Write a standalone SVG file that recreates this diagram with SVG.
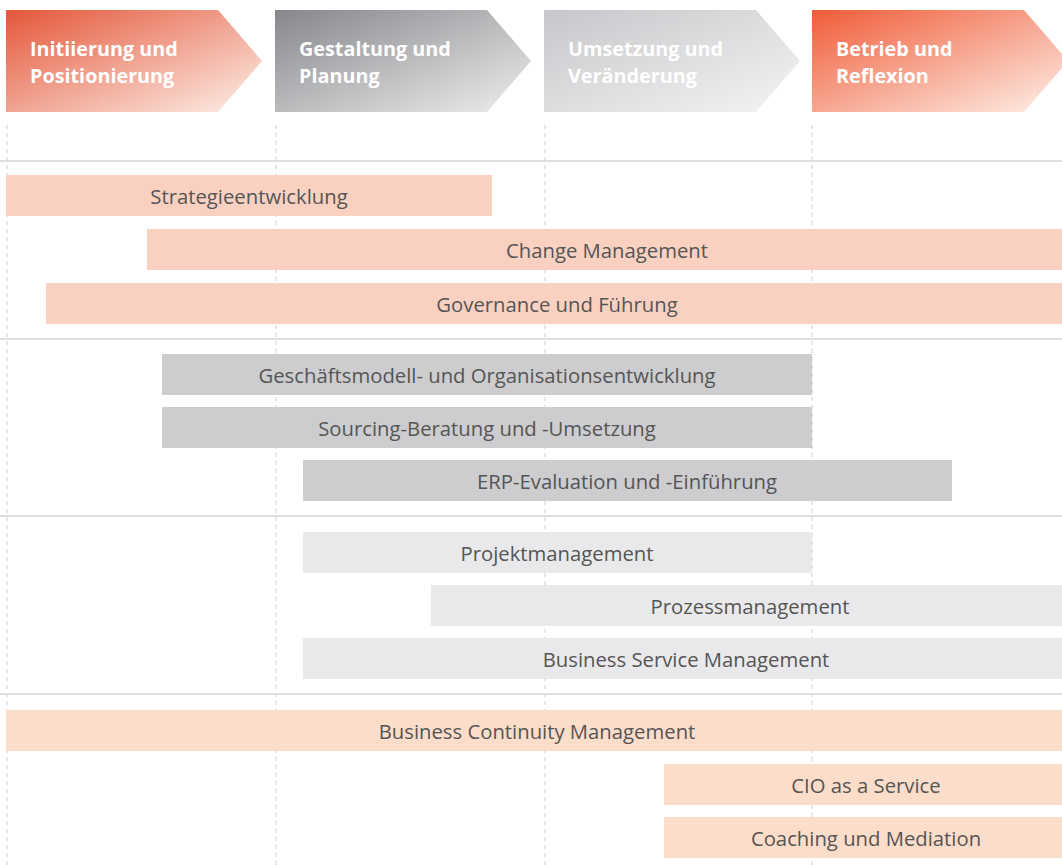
<svg xmlns="http://www.w3.org/2000/svg" width="1062" height="865" viewBox="0 0 1062 865">
<defs>
<linearGradient id="gOr" x1="0" y1="0" x2="1" y2="1">
<stop offset="0" stop-color="#E4573A"/><stop offset="1" stop-color="#FDF0E9"/>
</linearGradient>
<linearGradient id="gOr2" x1="0" y1="0" x2="1" y2="1">
<stop offset="0" stop-color="#F05C38"/><stop offset="1" stop-color="#FEF1EA"/>
</linearGradient>
<linearGradient id="gDk" x1="0" y1="0" x2="1" y2="1">
<stop offset="0" stop-color="#86878B"/><stop offset="1" stop-color="#EEEEEF"/>
</linearGradient>
<linearGradient id="gLt" x1="0" y1="0" x2="1" y2="1">
<stop offset="0" stop-color="#C6C7CA"/><stop offset="1" stop-color="#F4F4F5"/>
</linearGradient>
</defs>
<style>
.hd{font-family:"Open Sans","Noto Sans","Liberation Sans",sans-serif;font-weight:bold;font-size:19.8px;fill:#fff}
.lb{font-family:"Open Sans","Noto Sans","Liberation Sans",sans-serif;font-size:20.3px;fill:#555;text-anchor:middle}
.vl{stroke:#D6D6D6;stroke-width:1.2;stroke-dasharray:4 4}
.hl{stroke:#D4D4D4;stroke-width:1.5}
.or{fill:#FAD1C0}
.or2{fill:#FCDDCA}
.gr{fill:#CDCDCF}
.lg{fill:#E9E9EB}
</style>
<rect width="1062" height="865" fill="#fff"/>
<g id="grid">
<line class="vl" x1="7" y1="125" x2="7" y2="865"/>
<line class="vl" x1="276" y1="125" x2="276" y2="865"/>
<line class="vl" x1="545" y1="125" x2="545" y2="865"/>
<line class="vl" x1="812" y1="125" x2="812" y2="865"/>
<line class="hl" x1="0" y1="161" x2="1062" y2="161"/>
<line class="hl" x1="0" y1="339" x2="1062" y2="339"/>
<line class="hl" x1="0" y1="516" x2="1062" y2="516"/>
<line class="hl" x1="0" y1="694" x2="1062" y2="694"/>
</g>
<g id="phase1">
<polygon points="6,10 218,10 262,61 218,112 6,112" fill="url(#gOr)"/>
<text class="hd" x="30" y="56">Initiierung und</text>
<text class="hd" x="30" y="83">Positionierung</text>
</g>
<g id="phase2">
<polygon points="275,10 487,10 531,61 487,112 275,112" fill="url(#gDk)"/>
<text class="hd" x="299" y="56">Gestaltung und</text>
<text class="hd" x="299" y="83">Planung</text>
</g>
<g id="phase3">
<polygon points="544,10 756,10 800,61 756,112 544,112" fill="url(#gLt)"/>
<text class="hd" x="568" y="56">Umsetzung und</text>
<text class="hd" x="568" y="83">Veränderung</text>
</g>
<g id="phase4">
<polygon points="812,10 1024,10 1068,61 1024,112 812,112" fill="url(#gOr2)"/>
<text class="hd" x="836" y="56">Betrieb und</text>
<text class="hd" x="836" y="83">Reflexion</text>
</g>
<g id="b1"><rect class="or" x="6" y="175" width="486" height="41"/><text class="lb" x="249" y="203.5">Strategieentwicklung</text></g>
<g id="b2"><rect class="or" x="147" y="229" width="915" height="41"/><text class="lb" x="607" y="257.5">Change Management</text></g>
<g id="b3"><rect class="or" x="46" y="283" width="1016" height="41"/><text class="lb" x="557" y="311.5">Governance und Führung</text></g>
<g id="b4"><rect class="gr" x="162" y="354" width="650" height="41"/><text class="lb" x="487" y="382.5">Geschäftsmodell- und Organisationsentwicklung</text></g>
<g id="b5"><rect class="gr" x="162" y="407" width="650" height="41"/><text class="lb" x="487" y="435.5">Sourcing-Beratung und -Umsetzung</text></g>
<g id="b6"><rect class="gr" x="303" y="460" width="649" height="41"/><text class="lb" x="627" y="488.5">ERP-Evaluation und -Einführung</text></g>
<g id="b7"><rect class="lg" x="303" y="532" width="509" height="41"/><text class="lb" x="557" y="560.5">Projektmanagement</text></g>
<g id="b8"><rect class="lg" x="431" y="585" width="631" height="41"/><text class="lb" x="750" y="613.5">Prozessmanagement</text></g>
<g id="b9"><rect class="lg" x="303" y="638" width="759" height="41"/><text class="lb" x="686" y="666.5">Business Service Management</text></g>
<g id="b10"><rect class="or2" x="6" y="710" width="1056" height="41"/><text class="lb" x="537" y="738.5">Business Continuity Management</text></g>
<g id="b11"><rect class="or2" x="664" y="764" width="398" height="41"/><text class="lb" x="866" y="792.5">CIO as a Service</text></g>
<g id="b12"><rect class="or2" x="664" y="817" width="398" height="41"/><text class="lb" x="866" y="845.5">Coaching und Mediation</text></g>
</svg>
